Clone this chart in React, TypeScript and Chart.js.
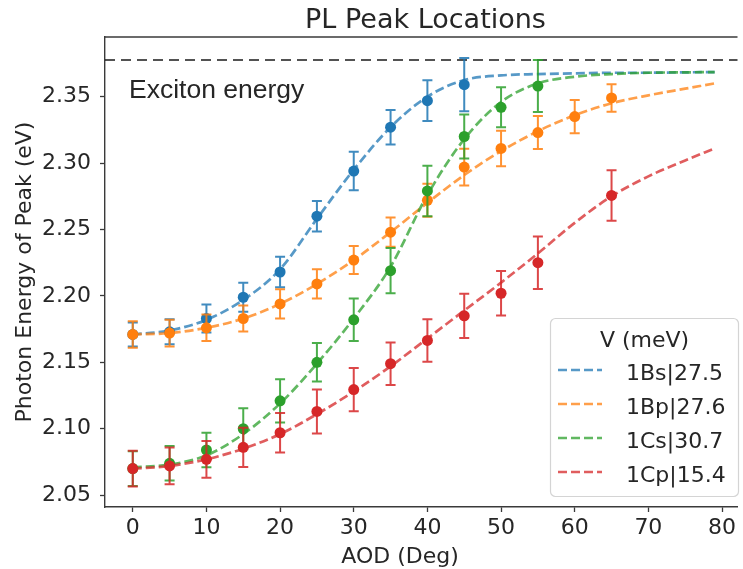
import React, { useEffect, useRef } from "react";
import { Chart, registerables } from "chart.js";

Chart.register(...registerables);

// ---------- data ----------
const chartTitle = "PL Peak Locations";
const xAxisTitle = "AOD (Deg)";
const yAxisTitle = "Photon Energy of Peak (eV)";
const excitonLabel = "Exciton energy";
const excitonEnergy = 2.3776;
const legendTitle = "V (meV)";
const seriesNames = ["1Bs|27.5", "1Bp|27.6", "1Cs|30.7", "1Cp|15.4"];
const seriesColors = ["#1f77b4", "#ff7f0e", "#2ca02c", "#d62728"];

const xTicks = [0, 10, 20, 30, 40, 50, 60, 70, 80];
const yTicks = [2.05, 2.1, 2.15, 2.2, 2.25, 2.3, 2.35];

// measured peaks (deg, eV, error eV)
const xBs = [0, 5, 10, 15, 20, 25, 30, 35, 40, 45];
const yBs = [2.171, 2.173, 2.183, 2.199, 2.218, 2.26, 2.294, 2.327, 2.347, 2.359];
const eBs = [0.009, 0.0094, 0.0105, 0.011, 0.0115, 0.0115, 0.0145, 0.013, 0.0153, 0.02];

const xBp = [0, 5, 10, 15, 20, 25, 30, 35, 40, 45, 50, 55, 60, 65];
const yBp = [2.171, 2.172, 2.176, 2.183, 2.194, 2.209, 2.227, 2.248, 2.272, 2.297, 2.311, 2.323, 2.335, 2.349];
const eBp = [0.01, 0.01, 0.01, 0.0098, 0.011, 0.011, 0.0105, 0.011, 0.0125, 0.0138, 0.0134, 0.0125, 0.0125, 0.0103];

const xCs = [0, 5, 10, 15, 20, 25, 30, 35, 40, 45, 50, 55];
const yCs = [2.07, 2.074, 2.084, 2.1, 2.121, 2.15, 2.182, 2.219, 2.279, 2.32, 2.342, 2.358];
const eCs = [0.013, 0.013, 0.013, 0.0154, 0.0163, 0.0145, 0.016, 0.017, 0.019, 0.0165, 0.015, 0.0195];

const xCp = [0, 5, 10, 15, 20, 25, 30, 35, 40, 45, 50, 55, 65];
const yCp = [2.07, 2.072, 2.077, 2.086, 2.097, 2.113, 2.1295, 2.149, 2.1665, 2.185, 2.202, 2.225, 2.2756];
const eCp = [0.0134, 0.0138, 0.0138, 0.0147, 0.0148, 0.0165, 0.0163, 0.016, 0.016, 0.0166, 0.0168, 0.0198, 0.019];

// fitted curves
const fitX = [0, 5, 10, 15, 20, 25, 30, 35, 40, 45, 50, 55, 60, 65, 70, 75, 79];
const fitBs = [2.171, 2.174, 2.182, 2.197, 2.22, 2.258, 2.295, 2.327, 2.35, 2.3625, 2.366, 2.367, 2.3675, 2.368, 2.368, 2.3683, 2.3685];
const fitBp = [2.171, 2.172, 2.176, 2.183, 2.194, 2.209, 2.227, 2.248, 2.27, 2.291, 2.309, 2.324, 2.336, 2.345, 2.351, 2.356, 2.36];
const fitCs = [2.071, 2.073, 2.08, 2.096, 2.119, 2.149, 2.183, 2.222, 2.276, 2.318, 2.346, 2.36, 2.365, 2.367, 2.368, 2.3683, 2.3685];
const fitCp = [2.07, 2.072, 2.077, 2.085, 2.096, 2.111, 2.128, 2.147, 2.168, 2.189, 2.21, 2.232, 2.255, 2.275, 2.29, 2.302, 2.311];

const xMin = -3.77;
const xMax = 82.1;
const yMin = 2.0411;
const yMax = 2.3949;

const pointSets = [
  { xs: xBs, ys: yBs, es: eBs },
  { xs: xBp, ys: yBp, es: eBp },
  { xs: xCs, ys: yCs, es: eCs },
  { xs: xCp, ys: yCp, es: eCp },
];
const fitSets = [fitBs, fitBp, fitCs, fitCp];

function rgba(hex: string, a: number) {
  const n = parseInt(hex.slice(1), 16);
  return `rgba(${(n >> 16) & 255},${(n >> 8) & 255},${n & 255},${a})`;
}

const FONT = '"DejaVu Sans"';
const TEXT = "#262626";

const errorBarPlugin = {
  id: "errbars",
  beforeDatasetDraw(chart: any, args: any) {
    const ds = chart.data.datasets[args.index];
    if (!ds.errors) return;
    const xs = chart.scales.x;
    const ys = chart.scales.y;
    const ctx = chart.ctx;
    ctx.save();
    ctx.strokeStyle = ds.errColor;
    ctx.lineWidth = 2;
    ds.data.forEach((p: any, i: number) => {
      const e = ds.errors[i];
      const px = xs.getPixelForValue(p.x);
      const top = ys.getPixelForValue(p.y + e);
      const bot = ys.getPixelForValue(p.y - e);
      ctx.beginPath();
      ctx.moveTo(px, top);
      ctx.lineTo(px, bot);
      ctx.moveTo(px - 5, top);
      ctx.lineTo(px + 5, top);
      ctx.moveTo(px - 5, bot);
      ctx.lineTo(px + 5, bot);
      ctx.stroke();
    });
    ctx.restore();
  },
};

const decorPlugin = {
  id: "decor",
  beforeDatasetsDraw(chart: any) {
    const { ctx, chartArea } = chart;
    const y = chart.scales.y.getPixelForValue(excitonEnergy);
    ctx.save();
    ctx.strokeStyle = "#1a1a1a";
    ctx.lineWidth = 1.6;
    ctx.setLineDash([10, 6]);
    ctx.beginPath();
    ctx.moveTo(chartArea.left, y);
    ctx.lineTo(chartArea.right, y);
    ctx.stroke();
    ctx.restore();
  },
  afterDraw(chart: any) {
    const { ctx, chartArea } = chart;
    ctx.save();
    // top spine
    ctx.strokeStyle = "#3a3a3a";
    ctx.lineWidth = 1.4;
    ctx.beginPath();
    ctx.moveTo(chartArea.left, chartArea.top);
    ctx.lineTo(chartArea.right, chartArea.top);
    ctx.stroke();

    ctx.fillStyle = TEXT;
    // title
    ctx.font = `27px ${FONT}`;
    ctx.textAlign = "center";
    ctx.textBaseline = "alphabetic";
    ctx.fillText(chartTitle, 425.5, 27.5);
    // x title
    ctx.font = `22px ${FONT}`;
    ctx.fillText(xAxisTitle, 400, 563);
    // y title
    ctx.save();
    ctx.translate(31, 272);
    ctx.rotate(-Math.PI / 2);
    ctx.textBaseline = "alphabetic";
    ctx.fillText(yAxisTitle, 0, 0);
    ctx.restore();
    // exciton label
    ctx.font = `26.5px "Liberation Sans"`;
    ctx.textAlign = "left";
    ctx.fillText(excitonLabel, 129, 98);

    // legend
    const bx = 550.5, by = 318.5, bw = 188, bh = 178;
    ctx.fillStyle = "rgba(255,255,255,0.85)";
    ctx.strokeStyle = "#d4d4d4";
    ctx.lineWidth = 1.2;
    ctx.beginPath();
    ctx.roundRect(bx, by, bw, bh, 5);
    ctx.fill();
    ctx.stroke();
    ctx.fillStyle = TEXT;
    ctx.font = `22px ${FONT}`;
    ctx.textAlign = "center";
    ctx.fillText(legendTitle, bx + bw / 2, 346.5);
    ctx.textAlign = "left";
    seriesNames.forEach((name, i) => {
      const base = 380 + i * 34;
      ctx.strokeStyle = rgba(seriesColors[i], 0.75);
      ctx.lineWidth = 2.7;
      ctx.setLineDash([9, 4]);
      ctx.beginPath();
      ctx.moveTo(558, base - 10);
      ctx.lineTo(602, base - 10);
      ctx.stroke();
      ctx.setLineDash([]);
      ctx.fillStyle = TEXT;
      ctx.fillText(name, 626, base);
    });
    ctx.restore();
  },
};

export default function App() {
  const ref = useRef<HTMLCanvasElement | null>(null);

  useEffect(() => {
    if (!ref.current) return;
    const datasets: any[] = [];
    fitSets.forEach((fy, i) => {
      datasets.push({
        type: "line",
        label: seriesNames[i],
        data: fitX.map((x, k) => ({ x, y: fy[k] })),
        borderColor: rgba(seriesColors[i], 0.75),
        borderWidth: 2.7,
        borderDash: [9, 4],
        pointRadius: 0,
        fill: false,
        cubicInterpolationMode: "monotone",
        order: 20 - i,
      });
    });
    pointSets.forEach((s, i) => {
      datasets.push({
        type: "scatter",
        label: seriesNames[i] + " pts",
        data: s.xs.map((x, k) => ({ x, y: s.ys[k] })),
        errors: s.es,
        errColor: rgba(seriesColors[i], 0.85),
        backgroundColor: seriesColors[i],
        borderColor: seriesColors[i],
        pointRadius: 5.5,
        pointBorderWidth: 0,
        showLine: false,
        order: 10 - i,
      });
    });

    const chart = new Chart(ref.current, {
      type: "scatter",
      data: { datasets },
      options: {
        animation: false,
        responsive: false,
        maintainAspectRatio: false,
        layout: { padding: { top: 37, left: 0, right: 0, bottom: 0 } },
        plugins: {
          legend: { display: false },
          title: { display: false },
          tooltip: { enabled: false },
        },
        scales: {
          x: {
            type: "linear",
            min: xMin,
            max: xMax,
            afterFit: (s: any) => {
              s.height = 62;
            },
            afterBuildTicks: (s: any) => {
              s.ticks = xTicks.map((v) => ({ value: v }));
            },
            ticks: {
              includeBounds: false,
              color: TEXT,
              font: { family: FONT, size: 22 },
              padding: 3,
              maxRotation: 0,
              callback: (v: any) => String(v),
            },
            grid: { drawOnChartArea: false, drawTicks: true, tickLength: 5, tickColor: "#3a3a3a", tickWidth: 1.3 },
            border: { display: true, color: "#3a3a3a", width: 1.4 },
          },
          y: {
            type: "linear",
            min: yMin,
            max: yMax,
            afterFit: (s: any) => {
              s.width = 105;
            },
            afterBuildTicks: (s: any) => {
              s.ticks = yTicks.map((v) => ({ value: v }));
            },
            ticks: {
              includeBounds: false,
              color: TEXT,
              font: { family: FONT, size: 22 },
              padding: 9,
              callback: (v: any) => Number(v).toFixed(2),
            },
            grid: { drawOnChartArea: false, drawTicks: true, tickLength: 5, tickColor: "#3a3a3a", tickWidth: 1.3 },
            border: { display: true, color: "#3a3a3a", width: 1.4 },
          },
        },
      } as any,
      plugins: [decorPlugin, errorBarPlugin],
    });
    return () => chart.destroy();
  }, []);

  return (
    <div style={{ position: "absolute", left: 0, top: 0, width: 743, height: 569, background: "#fff" }}>
      <canvas ref={ref} width={743} height={569} style={{ display: "block", width: 743, height: 569 }} />
    </div>
  );
}
